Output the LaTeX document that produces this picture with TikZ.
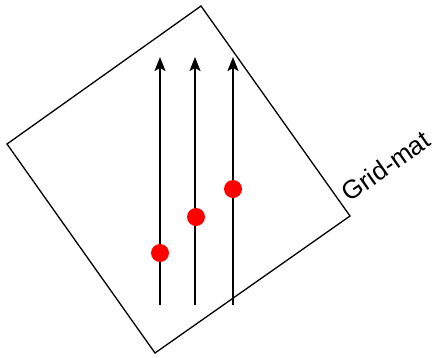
\documentclass[tikz,border=0pt]{standalone}
\usepackage{fontspec}
\setmainfont{Liberation Sans}
\usetikzlibrary{arrows.meta}
\begin{document}
\begin{tikzpicture}[x=1pt,y=-1pt,
  frame/.style={draw=black,line width=1.3pt,line join=miter},
  flow/.style={draw=black,line width=2pt,-{Stealth[length=14pt,width=11pt,inset=3pt]}},
  dot/.style={circle,fill=red,inner sep=0pt,minimum size=18pt}]
\useasboundingbox (0,0) rectangle (437,357);
\coordinate (L) at (7,144);
\coordinate (T) at (201,6);
\coordinate (R) at (350,216);
\coordinate (B) at (155,353);
\draw[frame] (L) -- (T) -- (R) -- (B) -- cycle;
\coordinate (s1) at (160,305);
\coordinate (e1) at (160,57);
\coordinate (s2) at (195,305);
\coordinate (e2) at (195,57);
\coordinate (s3) at (233,305);
\coordinate (e3) at (233,57);
\draw[flow] (s1) -- (e1);
\draw[flow] (s2) -- (e2);
\draw[flow] (s3) -- (e3);
\node[dot] (d1) at (160,253) {};
\node[dot] (d2) at (196,217) {};
\node[dot] (d3) at (233,189) {};
\node[rotate=35,font=\fontsize{26}{30}\selectfont,inner sep=0pt] (lab) at (386,166) {Grid-mat};
\end{tikzpicture}
\end{document}
